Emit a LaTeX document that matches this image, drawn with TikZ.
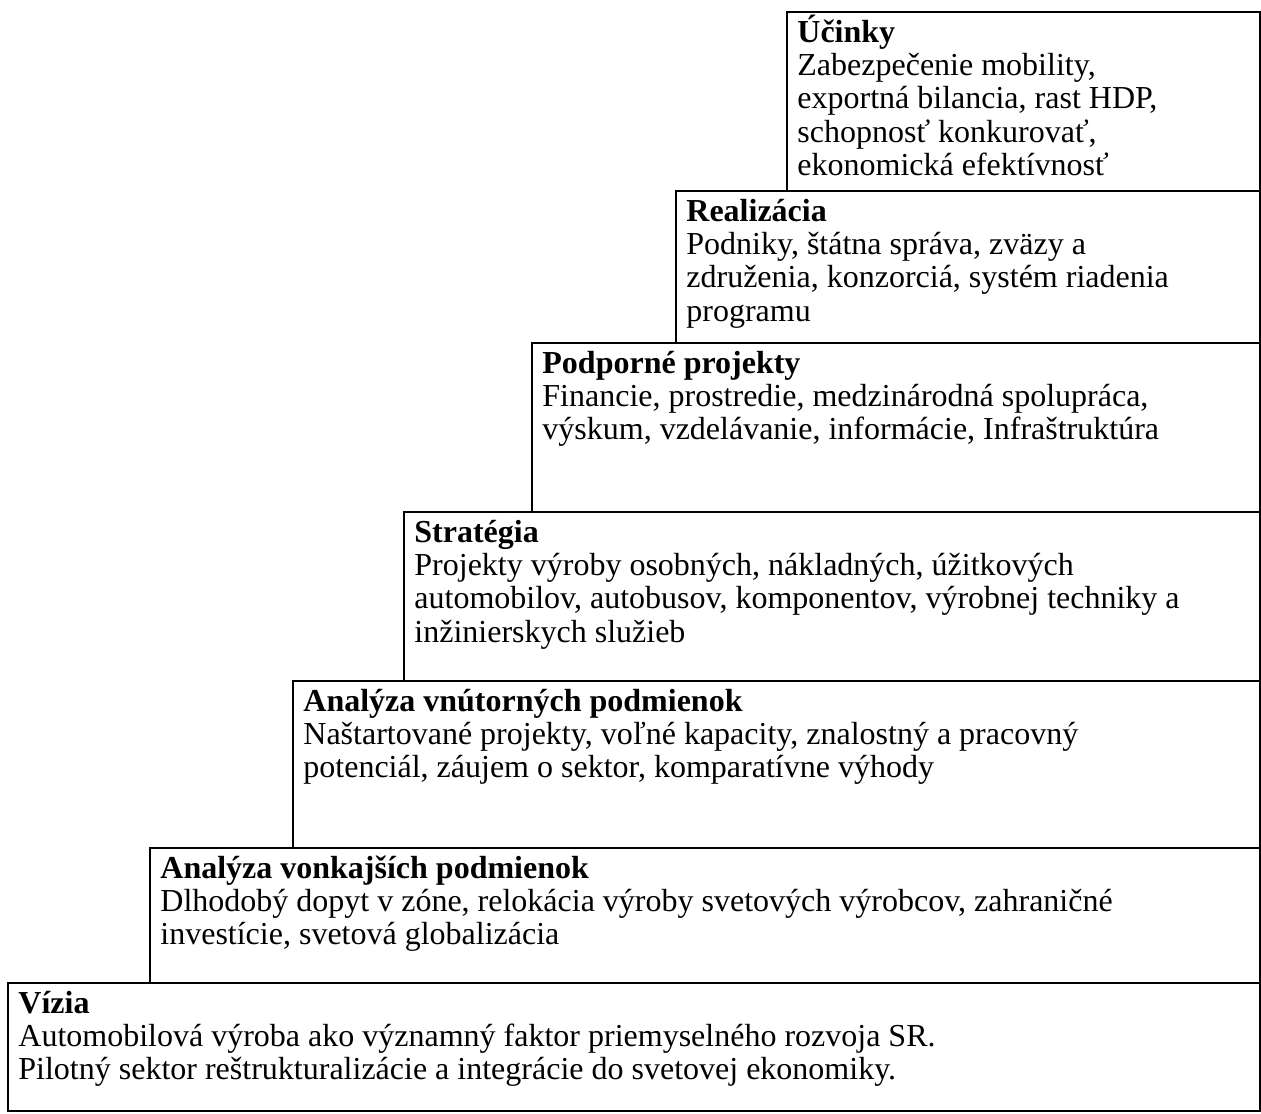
\documentclass[tikz,border=0pt]{standalone}
\usepackage{fontspec}
\setmainfont{Liberation Serif}
\tikzset{
    stupen/.style={draw=black,line width=0.9pt},
    popis/.style={anchor=north west,inner sep=0pt,align=left,font=\fontsize{16}{16.6}\selectfont},
}
\newcommand{\hlava}[1]{\rule{0pt}{14pt}\textbf{#1}}

\begin{document}
\begin{tikzpicture}[x=0.5pt,y=-0.5pt]
\useasboundingbox (0,0) rectangle (1261,1113);
% stupne schodiska
\draw[stupen] (787,12) rectangle (1260,191);
\draw[stupen] (676,191) rectangle (1260,343);
\draw[stupen] (532,343) rectangle (1260,512);
\draw[stupen] (404,512) rectangle (1260,681);
\draw[stupen] (293,681) rectangle (1260,848);
\draw[stupen] (150,848) rectangle (1260,983);
\draw[stupen] (8,983) rectangle (1260,1111);
% texty
\node[popis] (ucinky) at (797,14) {\hlava{Účinky}\\Zabezpečenie mobility,\\exportná bilancia, rast HDP,\\schopnosť konkurovať,\\ekonomická efektívnosť};
\node[popis] (realizacia) at (686,193) {\hlava{Realizácia}\\Podniky, štátna správa, zväzy a\\združenia, konzorciá, systém riadenia\\programu};
\node[popis] (podpora) at (542,345) {\hlava{Podporné projekty}\\Financie, prostredie, medzinárodná spolupráca,\\výskum, vzdelávanie, informácie, Infraštruktúra};
\node[popis] (strategia) at (414,514) {\hlava{Stratégia}\\Projekty výroby osobných, nákladných, úžitkových\\automobilov, autobusov, komponentov, výrobnej techniky a\\inžinierskych služieb};
\node[popis] (vnutorne) at (303,683) {\hlava{Analýza vnútorných podmienok}\\Naštartované projekty, voľné kapacity, znalostný a pracovný\\potenciál, záujem o sektor, komparatívne výhody};
\node[popis] (vonkajsie) at (160,850) {\hlava{Analýza vonkajších podmienok}\\Dlhodobý dopyt v zóne, relokácia výroby svetových výrobcov, zahraničné\\investície, svetová globalizácia};
\node[popis] (vizia) at (18,985) {\hlava{Vízia}\\Automobilová výroba ako významný faktor priemyselného rozvoja SR.\\Pilotný sektor reštrukturalizácie a integrácie do svetovej ekonomiky.};
\end{tikzpicture}
\end{document}
